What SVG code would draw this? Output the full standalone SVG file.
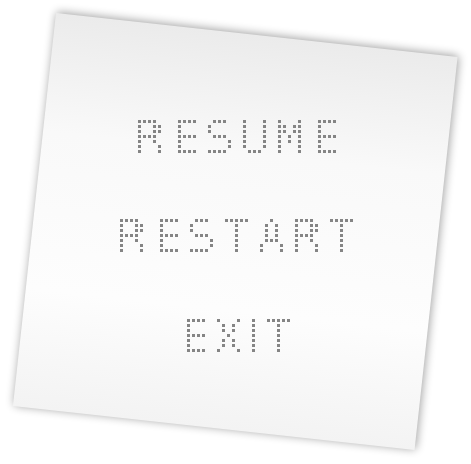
<svg xmlns="http://www.w3.org/2000/svg" width="471" height="464" viewBox="0 0 471 464">
  <defs>
    <linearGradient id="paperFill" x1="0" y1="0" x2="0" y2="1">
      <stop offset="0" stop-color="#ebebeb"/>
      <stop offset="0.3" stop-color="#f9f9f9"/>
      <stop offset="0.7" stop-color="#fdfdfd"/>
      <stop offset="1" stop-color="#f3f3f3"/>
    </linearGradient>
    <filter id="soft" x="-10%" y="-10%" width="120%" height="120%">
      <feGaussianBlur stdDeviation="5"/>
    </filter>
    <filter id="dotmatrix" filterUnits="userSpaceOnUse" primitiveUnits="userSpaceOnUse" x="-10" y="-10" width="270" height="60" color-interpolation-filters="sRGB">
      <feFlood x="0" y="0" width="1" height="1" flood-color="#000" result="px"/>
      <feComposite in="px" in2="px" operator="over" x="0" y="0" width="5" height="5" result="cell"/>
      <feTile in="cell" result="grid"/>
      <feComposite in="SourceGraphic" in2="grid" operator="in" result="samples"/>
      <feComponentTransfer in="samples" result="bin">
        <feFuncA type="discrete" tableValues="0 1"/>
      </feComponentTransfer>
      <feMorphology in="bin" operator="dilate" radius="1" result="dots"/>
      <feGaussianBlur in="dots" stdDeviation="0.3"/>
    </filter>
  </defs>
  <style>
    .word { font-family: "DejaVu Sans Mono", "Liberation Mono", monospace; font-size: 46.5px; fill: #858585; stroke: #858585; stroke-width: 0.4; stroke-linejoin: round; }
    .narrow { font-family: "DejaVu Sans", "Liberation Sans", sans-serif; }
  </style>

  <g id="paper">
    <g transform="rotate(6.25 235.25 231.5)">
      <rect x="34.25" y="32.8" width="404" height="395.4" fill="#000" opacity="0.38" filter="url(#soft)"/>
      <rect x="33.25" y="33.8" width="404" height="395.4" fill="url(#paperFill)"/>
    </g>
  </g>

  <g id="resume" transform="translate(139 121)">
    <g filter="url(#dotmatrix)">
      <text class="word" y="32.5" x="-3.5 31.5 66.5 101.5 136.5 171.5">RESUME</text>
    </g>
  </g>

  <g id="restart" transform="translate(121 220)">
    <g filter="url(#dotmatrix)">
      <text class="word" y="32.5" x="-3.5 31.5 66.5 101.5 136.5 171.5 206.5">RESTART</text>
    </g>
  </g>

  <g id="exit" transform="translate(183 320)">
    <g filter="url(#dotmatrix)">
      <text class="word" y="32.5" x="-3.5 31.5">EX<tspan class="narrow" x="63.85">I</tspan><tspan x="81.5">T</tspan></text>
    </g>
  </g>
</svg>
